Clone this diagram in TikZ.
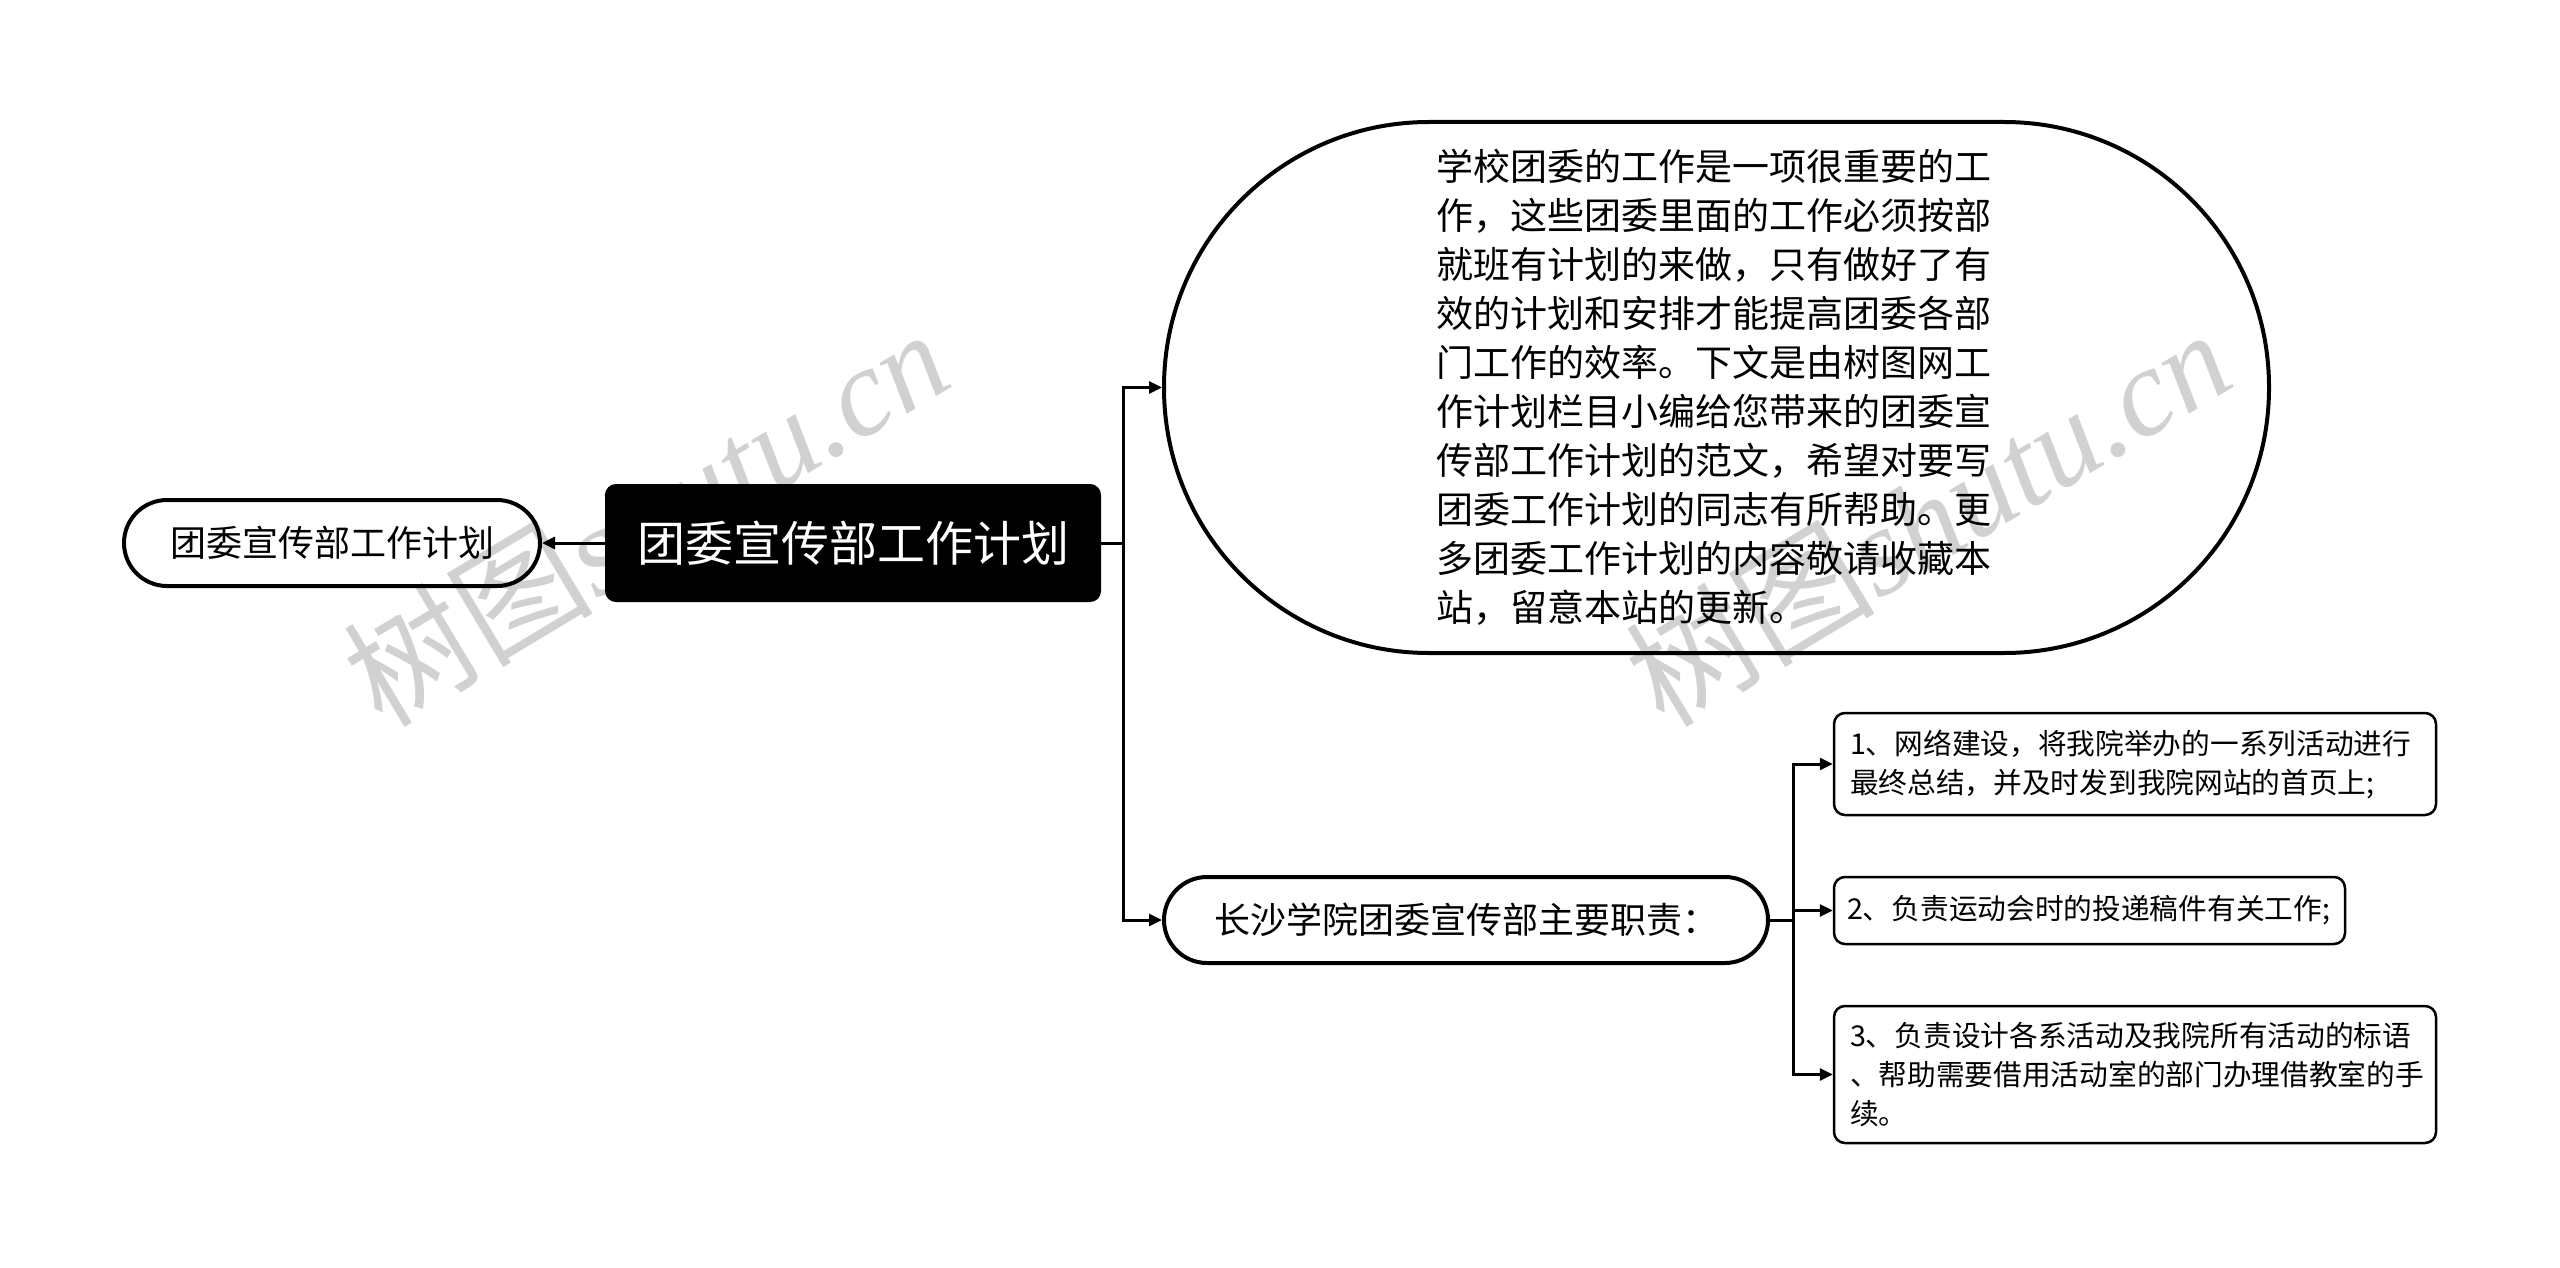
\documentclass[tikz,border=0pt]{standalone}
\usepackage{fontspec}
\setmainfont{Noto Sans CJK SC}
\newfontfamily\wmserif{Liberation Serif}
\usetikzlibrary{arrows.meta}
\newcommand\myfs[2]{\fontsize{#1pt}{#2pt}\selectfont}
\begin{document}
\begin{tikzpicture}[x=1pt,y=-1pt,
  conn/.style={line width=3pt, draw=black},
  arr/.style={conn, -{Triangle[length=13pt,width=12pt]}},
  pill/.style={draw=black, line width=4pt, rounded corners=43pt, inner sep=0pt},
  rootbox/.style={draw=black, fill=black, text=white, line width=2pt, rounded corners=10pt, inner sep=0pt},
  childbox/.style={draw=black, line width=2.5pt, rounded corners=11pt, inner xsep=16pt, inner ysep=0pt, align=left},
  wm/.style={rotate=31, text=black!18, inner sep=0pt}
]
\useasboundingbox (0,0) rectangle (2560,1268);
% watermarks
\node[wm, font=\myfs{125}{125}] (wm1) at (645,516) {树图\wmserif\itshape shutu.cn};
\node[wm, font=\myfs{125}{125}] (wm2) at (1927,516) {树图\wmserif\itshape shutu.cn};

% root
\node[rootbox, font=\myfs{48}{56}, minimum width=494pt, minimum height=116pt] (root) at (853,543) {团委宣传部工作计划};
% left
\node[pill, font=\myfs{36}{42}, minimum width=416pt, minimum height=86pt] (left) at (332,543) {团委宣传部工作计划};
% top big node
\node[draw=black, line width=4pt, rounded corners=265pt, minimum width=1105pt, minimum height=531pt, text width=560pt, align=left, inner sep=0pt, font=\myfs{37}{49}] (top) at (1716.5,387.5)
 {学校团委的工作是一项很重要的工\\作，这些团委里面的工作必须按部\\就班有计划的来做，只有做好了有\\效的计划和安排才能提高团委各部\\门工作的效率。下文是由树图网工\\作计划栏目小编给您带来的团委宣\\传部工作计划的范文，希望对要写\\团委工作计划的同志有所帮助。更\\多团委工作计划的内容敬请收藏本\\站，留意本站的更新。};
% second node
\node[pill, font=\myfs{36}{42}, minimum width=604pt, minimum height=86pt] (n2) at (1466,920) {长沙学院团委宣传部主要职责：};
% children
\node[childbox, font=\myfs{28.7}{39}, text width=570pt, minimum height=102pt] (c1) at (2135,764)
 {1、网络建设，将我院举办的一系列活动进行\\最终总结，并及时发到我院网站的首页上;};
\node[childbox, font=\myfs{28.7}{39}, text width=485pt, inner xsep=13pt, minimum height=67pt] (c2) at (2089.5,910.5)
 {2、负责运动会时的投递稿件有关工作;};
\node[childbox, font=\myfs{28.7}{39}, text width=570pt, minimum height=137pt] (c3) at (2135,1074.5)
 {3、负责设计各系活动及我院所有活动的标语\\、帮助需要借用活动室的部门办理借教室的手\\续。};

% connectors
\coordinate (j1) at (1123,543);
\coordinate (j2) at (1793,920);
\draw[arr] (root.west) -- (left.east);
\draw[conn] (root.east) -- (j1);
\draw[arr] (j1) |- (top.west);
\draw[arr] (j1) |- (n2.west);
\draw[conn] (n2.east) -- (j2);
\draw[arr] (j2) |- (c1.west);
\draw[arr] (j2) |- (c2.west);
\draw[arr] (j2) |- (c3.west);
\end{tikzpicture}
\end{document}
